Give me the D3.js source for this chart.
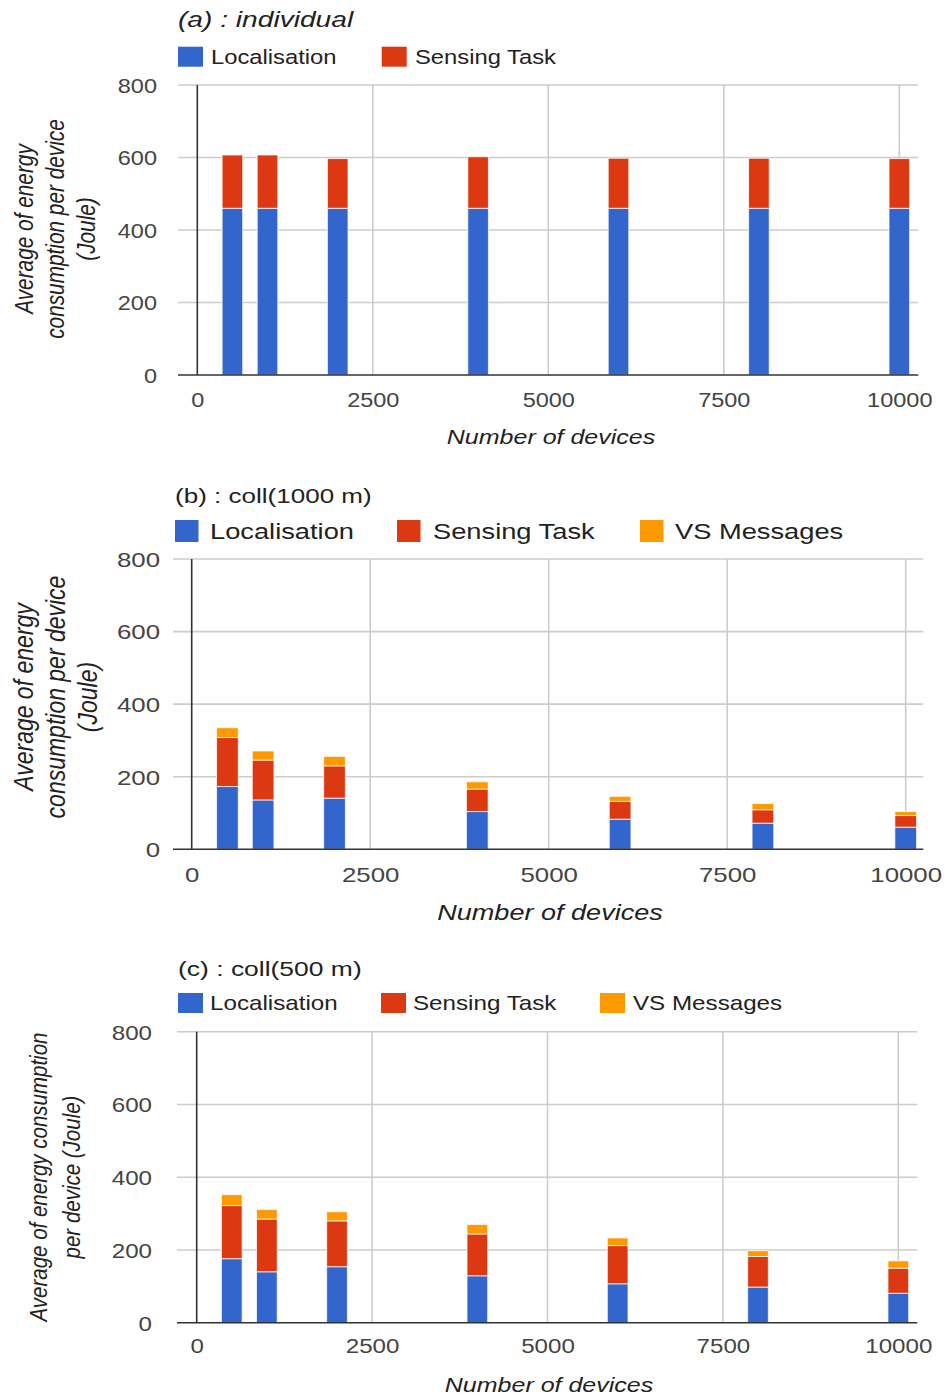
<!DOCTYPE html>
<html>
<head>
<meta charset="utf-8">
<script src="https://cdn.jsdelivr.net/npm/d3@7"></script>
<style>
  html, body { margin: 0; padding: 0; background: #fff; }
  svg { display: block; font-family: "Liberation Sans", Arial, sans-serif; }
</style>
</head>
<body>
<svg id="chart" width="945" height="1398"></svg>
<script>
// ---- data ----
const devices = [500, 1000, 2000, 4000, 6000, 8000, 10000];
const seriesNames = ["Localisation", "Sensing Task", "VS Messages"];
const seriesColors = ["#3366cc", "#dc3912", "#ff9900"];
const yTicks = [0, 200, 400, 600, 800];
const xTicks = [0, 2500, 5000, 7500, 10000];

const locA = [460, 460, 460, 460, 460, 460, 460];
const senseA = [147, 147, 137, 142, 138, 138, 137];

const locB = [173, 136, 141, 104, 83, 72, 61];
const senseB = [135, 110, 89, 62, 49, 37, 32];
const vsB = [27, 25, 26, 20, 14, 17, 11];

const locC = [176, 140, 154, 129, 107, 98, 81];
const senseC = [146, 145, 126, 115, 105, 84, 69];
const vsC = [30, 26, 25, 26, 21, 16, 20];

const titleA = "(a) : individual";
const titleB = "(b) : coll(1000 m)";
const titleC = "(c) : coll(500 m)";
const xTitle = "Number of devices";
const yTitleA = ["Average of energy", "consumption per device", "(Joule)"];
const yTitleB = ["Average of energy", "consumption per device", "(Joule)"];
const yTitleC = ["Average of energy consumption", "per device (Joule)"];

// ---- layout ----
const panels = [
  {
    title: titleA, titleItalic: true, titleX: 178, titleY: 27, titleSize: 22, titleSx: 1.28,
    series: [locA, senseA], names: seriesNames.slice(0, 2),
    legSq: [178, 381.7], legTx: [211, 415], legY: 46.7, legH: 20, legW: 25, legTxY: 63.5, legSize: 20.5, legSx: 1.16,
    x0: 197.3, x1: 899.3, left: 178, right: 918.3, yBase: 375, yTop: 85, barW: 20.6,
    tickSize: 21, tickSx: 1.12, yLabRight: 157, xLabBase: 407,
    xTitleX: 551, xTitleY: 444, xTitleSize: 20.5, xTitleSx: 1.22,
    yTitle: yTitleA, yTitleSize: 20.8, yTitleSx: 1.2, yTitleBases: [33, 64, 95], yTitleCy: 229
  },
  {
    title: titleB, titleItalic: false, titleX: 175, titleY: 503, titleSize: 21, titleSx: 1.24,
    series: [locB, senseB, vsB], names: seriesNames,
    legSq: [175, 397, 640], legTx: [210, 433, 675], legY: 520, legH: 22, legW: 23.5, legTxY: 539, legSize: 22, legSx: 1.24,
    x0: 191.7, x1: 905.7, left: 173, right: 923.3, yBase: 849.3, yTop: 559, barW: 21.7,
    tickSize: 21, tickSx: 1.23, yLabRight: 160, xLabBase: 882,
    xTitleX: 550, xTitleY: 920, xTitleSize: 22, xTitleSx: 1.23,
    yTitle: yTitleB, yTitleSize: 23, yTitleSx: 1.2, yTitleBases: [33, 65, 97], yTitleCy: 697
  },
  {
    title: titleC, titleItalic: false, titleX: 178, titleY: 976, titleSize: 21, titleSx: 1.26,
    series: [locC, senseC, vsC], names: seriesNames,
    legSq: [178, 381, 600], legTx: [210, 413, 633], legY: 993, legH: 20, legW: 25, legTxY: 1010, legSize: 20.5, legSx: 1.18,
    x0: 196.7, x1: 898.3, left: 177, right: 917.3, yBase: 1322.7, yTop: 1031.7, barW: 20.7,
    tickSize: 21, tickSx: 1.15, yLabRight: 152, xLabBase: 1353,
    xTitleX: 549, xTitleY: 1392, xTitleSize: 20.5, xTitleSx: 1.22,
    yTitle: yTitleC, yTitleSize: 20.5, yTitleSx: 1.2, yTitleBases: [47, 80], yTitleCy: 1177
  }
];

const svg = d3.select("#chart");
svg.append("rect").attr("width", 945).attr("height", 1398).attr("fill", "#fff");

function addText(g, o) {
  let tr = `translate(${o.x},${o.y}) scale(${o.sx || 1},1)`;
  if (o.rot) tr += " rotate(-90)";
  return g.append("text")
    .attr("transform", tr)
    .attr("text-anchor", o.anchor || "start")
    .style("font-size", o.size + "px")
    .style("font-style", o.italic ? "italic" : "normal")
    .attr("fill", o.color || "#222")
    .text(o.text);
}

panels.forEach(p => {
  const g = svg.append("g");
  const x = d3.scaleLinear().domain([0, 10000]).range([p.x0, p.x1]);
  const y = d3.scaleLinear().domain([0, 800]).range([p.yBase, p.yTop]);

  // gridlines
  g.append("g").selectAll("line").data(yTicks.filter(d => d > 0)).join("line")
    .attr("x1", p.left).attr("x2", p.right)
    .attr("y1", d => y(d)).attr("y2", d => y(d))
    .attr("stroke", "#cccccc").attr("stroke-width", 1.6);
  g.append("g").selectAll("line").data(xTicks.filter(d => d > 0)).join("line")
    .attr("x1", d => x(d)).attr("x2", d => x(d))
    .attr("y1", p.yTop).attr("y2", p.yBase)
    .attr("stroke", "#cccccc").attr("stroke-width", 1.6);

  // stacked bars
  const rows = devices.map((d, i) => {
    const r = { dev: d };
    p.series.forEach((s, k) => r["s" + k] = s[i]);
    return r;
  });
  const keys = p.series.map((s, k) => "s" + k);
  const stacked = d3.stack().keys(keys)(rows);
  g.append("g").selectAll("g").data(stacked).join("g")
    .attr("fill", (d, k) => seriesColors[k])
    .selectAll("rect").data(d => d).join("rect")
    .attr("x", d => x(d.data.dev) - p.barW / 2)
    .attr("width", p.barW)
    .attr("y", d => y(d[1]))
    .attr("height", d => y(d[0]) - y(d[1]))
    .attr("stroke", "#ffffff").attr("stroke-opacity", 0.75).attr("stroke-width", 1);

  // axis lines
  g.append("line").attr("x1", x(0)).attr("x2", x(0)).attr("y1", p.yTop).attr("y2", p.yBase)
    .attr("stroke", "#333").attr("stroke-width", 1.6);
  g.append("line").attr("x1", p.left).attr("x2", p.right).attr("y1", p.yBase).attr("y2", p.yBase)
    .attr("stroke", "#333").attr("stroke-width", 1.6);

  // y tick labels
  const ya = g.append("g").attr("transform", `translate(${p.yLabRight},0)`)
    .call(d3.axisLeft(y).tickValues(yTicks).tickSize(0).tickPadding(0));
  ya.select(".domain").remove();
  ya.selectAll("text")
    .attr("x", 0).attr("dy", "0.35em")
    .attr("transform", `scale(${p.tickSx},1)`)
    .style("font-size", p.tickSize + "px")
    .style("font-family", '"Liberation Sans", Arial, sans-serif')
    .attr("fill", "#444");

  // x tick labels
  const xa = g.append("g").attr("transform", `translate(0,${p.xLabBase})`)
    .call(d3.axisBottom(x).tickValues(xTicks).tickSize(0).tickPadding(0).tickFormat(d3.format("d")));
  xa.select(".domain").remove();
  xa.selectAll("text")
    .attr("y", 0).attr("dy", 0)
    .attr("transform", `scale(${p.tickSx},1)`)
    .style("font-size", p.tickSize + "px")
    .style("font-family", '"Liberation Sans", Arial, sans-serif')
    .attr("fill", "#444");

  // title
  addText(g, { x: p.titleX, y: p.titleY, text: p.title, size: p.titleSize, sx: p.titleSx, italic: p.titleItalic, color: "#222" });

  // legend
  p.names.forEach((n, k) => {
    g.append("rect").attr("x", p.legSq[k]).attr("y", p.legY).attr("width", p.legW).attr("height", p.legH)
      .attr("fill", seriesColors[k]);
    addText(g, { x: p.legTx[k], y: p.legTxY, text: n, size: p.legSize, sx: p.legSx, color: "#222" });
  });

  // x title
  addText(g, { x: p.xTitleX, y: p.xTitleY, text: xTitle, size: p.xTitleSize, sx: p.xTitleSx, italic: true, anchor: "middle", color: "#222" });

  // y title
  p.yTitle.forEach((line, i) => {
    addText(g, { x: p.yTitleBases[i], y: p.yTitleCy, text: line, size: p.yTitleSize, sx: p.yTitleSx, italic: true, anchor: "middle", rot: true, color: "#222" });
  });
});
</script>
</body>
</html>
